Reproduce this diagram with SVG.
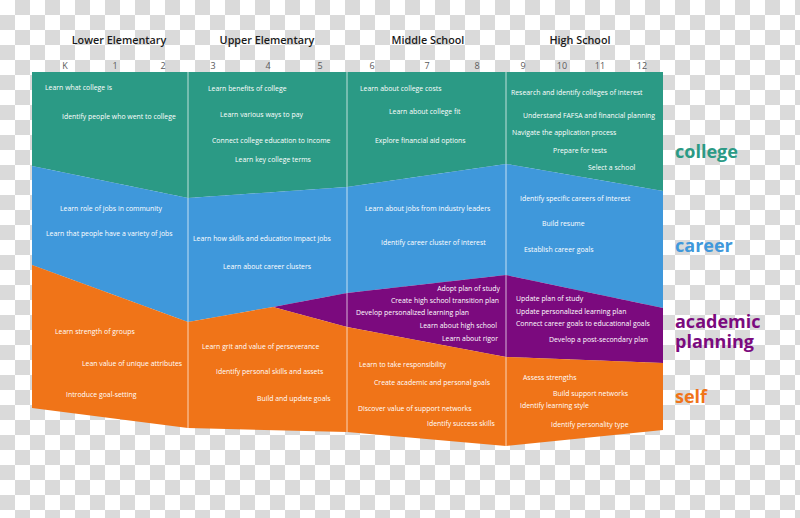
<svg xmlns="http://www.w3.org/2000/svg" width="800" height="518" viewBox="0 0 800 518">
<defs>
<pattern id="chk" x="0" y="0" width="30" height="30" patternUnits="userSpaceOnUse">
<rect width="30" height="30" fill="#ffffff"/>
<rect x="15" y="0" width="15" height="15" fill="#dadada"/>
<rect x="0" y="15" width="15" height="15" fill="#dadada"/>
</pattern>
</defs>
<style>
.hd{font-family:"Open Sans","Noto Sans",sans-serif;font-weight:600;font-size:10.8px;fill:#1a1a1a;text-anchor:middle}
.gr{font-family:"Open Sans","Noto Sans",sans-serif;font-size:9px;fill:#5a5a5a;text-anchor:middle}
.it{font-family:"Open Sans","Noto Sans",sans-serif;font-size:6.9px;fill:#ffffff}
.r{text-anchor:end}
.lb{font-family:"Open Sans","Noto Sans",sans-serif;font-weight:700;font-size:18px}
.div{stroke:#ffffff;stroke-opacity:0.7;stroke-width:1}
</style>
<rect width="800" height="518" fill="url(#chk)"/>
<g id="headers">
<text class="hd" x="119" y="44">Lower Elementary</text>
<text class="hd" x="267" y="44">Upper Elementary</text>
<text class="hd" x="428" y="44">Middle School</text>
<text class="hd" x="580" y="44">High School</text>
</g>
<g id="grades">
<text class="gr" x="65" y="69">K</text>
<text class="gr" x="115" y="69">1</text>
<text class="gr" x="163" y="69">2</text>
<text class="gr" x="213" y="69">3</text>
<text class="gr" x="268" y="69">4</text>
<text class="gr" x="320" y="69">5</text>
<text class="gr" x="372" y="69">6</text>
<text class="gr" x="427" y="69">7</text>
<text class="gr" x="477" y="69">8</text>
<text class="gr" x="523" y="69">9</text>
<text class="gr" x="562" y="69">10</text>
<text class="gr" x="600" y="69">11</text>
<text class="gr" x="642" y="69">12</text>
</g>
<g id="band-college">
<polygon fill="#2b9a85" points="32,72 663,72 663,191 506,164 347,187 188,198 32,166"/>
</g>
<g id="band-career">
<polygon fill="#3f98db" points="32,166 188,198 347,187 506,164 663,191 663,308 506,275 347,293 273,307 188,322 32,265"/>
</g>
<g id="band-academic">
<polygon fill="#7b0a7e" points="273,307 347,293 506,275 663,308 663,363 506,357 347,327"/>
</g>
<g id="band-self">
<polygon fill="#f07418" points="32,265 188,322 273,307 347,327 506,357 663,363 663,430 506,446 347,432 188,428 32,408"/>
</g>
<g id="connectors">
<line class="div" x1="188" y1="72" x2="188" y2="428"/>
<line class="div" x1="347" y1="72" x2="347" y2="432"/>
<line class="div" x1="506" y1="72" x2="506" y2="446"/>
</g>
<g id="college-items">
<text class="it" x="45" y="90">Learn what college is</text>
<text class="it" x="62" y="119">Identify people who went to college</text>
<text class="it" x="208" y="91">Learn benefits of college</text>
<text class="it" x="220" y="117">Learn various ways to pay</text>
<text class="it" x="212" y="143">Connect college education to income</text>
<text class="it" x="235" y="162">Learn key college terms</text>
<text class="it" x="360" y="91">Learn about college costs</text>
<text class="it" x="389" y="114">Learn about college fit</text>
<text class="it" x="375" y="143">Explore financial aid options</text>
<text class="it" x="511" y="95">Research and identify colleges of interest</text>
<text class="it" x="523" y="118">Understand FAFSA and financial planning</text>
<text class="it" x="512" y="135">Navigate the application process</text>
<text class="it" x="553" y="153">Prepare for tests</text>
<text class="it" x="588" y="170">Select a school</text>
</g>
<g id="career-items">
<text class="it" x="60" y="211">Learn role of jobs in community</text>
<text class="it" x="46" y="236">Learn that people have a variety of jobs</text>
<text class="it" x="193" y="241">Learn how skills and education impact jobs</text>
<text class="it" x="223" y="269">Learn about career clusters</text>
<text class="it" x="365" y="211">Learn about jobs from industry leaders</text>
<text class="it" x="381" y="245">Identify career cluster of interest</text>
<text class="it" x="520" y="201">Identify specific careers of interest</text>
<text class="it" x="542" y="226">Build resume</text>
<text class="it" x="524" y="252">Establish career goals</text>
</g>
<g id="academic-items">
<text class="it r" x="500" y="291">Adopt plan of study</text>
<text class="it r" x="499" y="303">Create high school transition plan</text>
<text class="it" x="356" y="315">Develop personalized learning plan</text>
<text class="it r" x="497" y="328">Learn about high school</text>
<text class="it r" x="498" y="341">Learn about rigor</text>
<text class="it" x="516" y="301">Update plan of study</text>
<text class="it" x="516" y="314">Update personalized learning plan</text>
<text class="it" x="516" y="326">Connect career goals to educational goals</text>
<text class="it" x="549" y="342">Develop a post-secondary plan</text>
</g>
<g id="self-items">
<text class="it" x="55" y="334">Learn strength of groups</text>
<text class="it" x="82" y="366">Lean value of unique attributes</text>
<text class="it" x="66" y="397">Introduce goal-setting</text>
<text class="it" x="202" y="349">Learn grit and value of perseverance</text>
<text class="it" x="216" y="374">Identify personal skills and assets</text>
<text class="it" x="257" y="401">Build and update goals</text>
<text class="it" x="359" y="367">Learn to take responsibility</text>
<text class="it" x="374" y="385">Create academic and personal goals</text>
<text class="it" x="358" y="411">Discover value of support networks</text>
<text class="it" x="427" y="426">Identify success skills</text>
<text class="it" x="523" y="380">Assess strengths</text>
<text class="it" x="553" y="396">Build support networks</text>
<text class="it" x="520" y="408">Identify learning style</text>
<text class="it" x="551" y="427">Identify personality type</text>
</g>
<g id="labels">
<text class="lb" x="675" y="158" fill="#2b9a85">college</text>
<text class="lb" x="675" y="252" fill="#3f98db">career</text>
<text class="lb" x="675" y="328" fill="#7b0a7e">academic</text>
<text class="lb" x="675" y="348" fill="#7b0a7e">planning</text>
<text class="lb" x="675" y="403" fill="#f07418">self</text>
</g>
</svg>
